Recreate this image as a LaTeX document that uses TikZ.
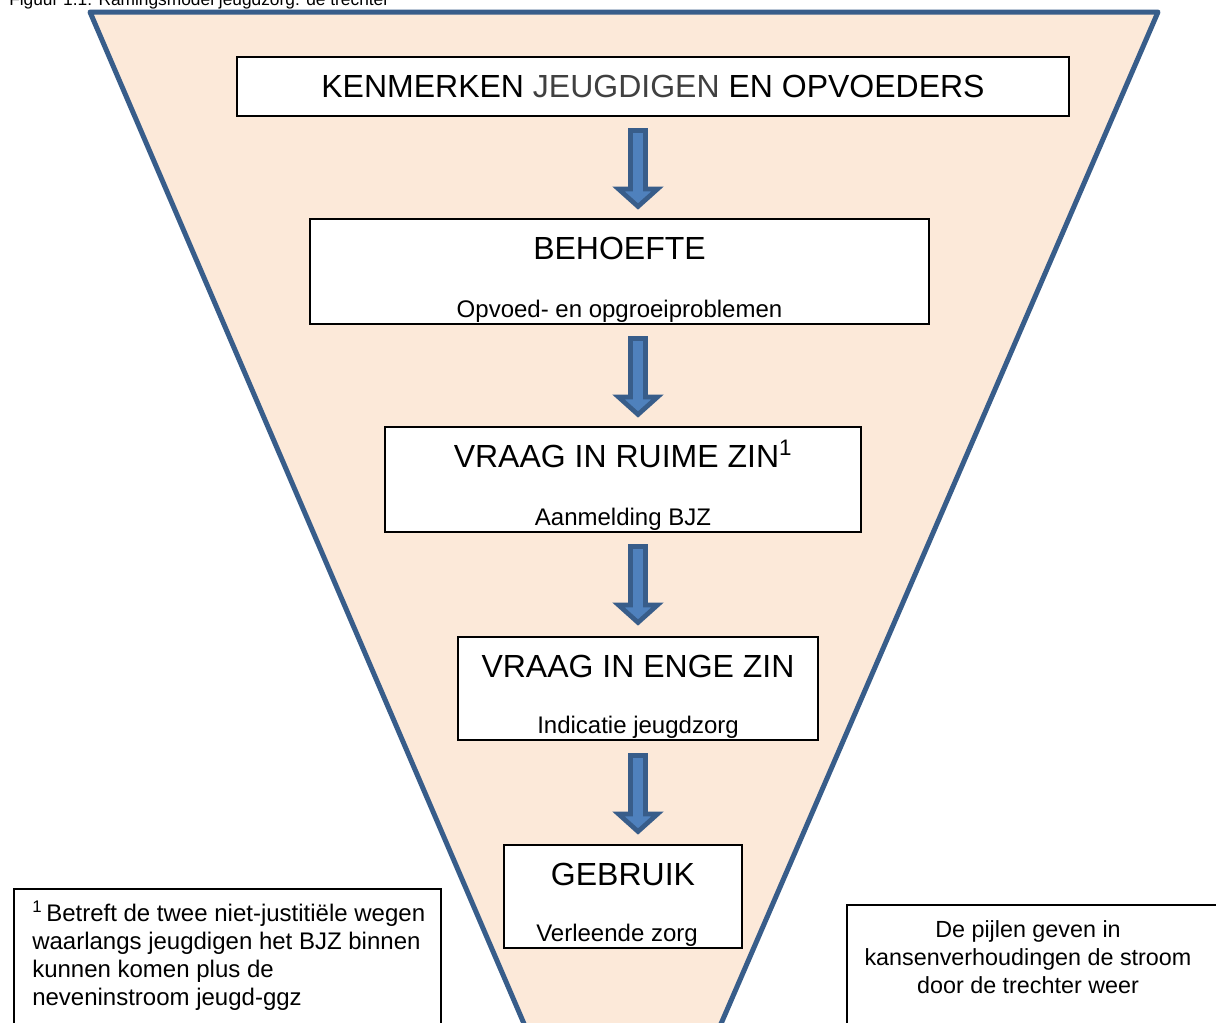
\documentclass[tikz,border=0pt]{standalone}
\usepackage{fontspec}
\setmainfont{Liberation Sans}
\usetikzlibrary{calc,fit}
\definecolor{funnelfill}{RGB}{252,233,217}
\definecolor{funnelline}{RGB}{56,93,138}
\definecolor{arrowfill}{RGB}{79,129,189}
\definecolor{arrowline}{RGB}{56,93,138}
\definecolor{greytext}{RGB}{64,64,64}
\begin{document}
\begin{tikzpicture}[x=0.75pt,y=-0.75pt,
  box/.style={draw=black,line width=1.5pt,fill=white,inner sep=0pt},
  notebox/.style={draw=black,line width=1.5pt,fill=white,inner sep=0pt},
  titletext/.style={font=\fontsize{24}{28}\selectfont,inner sep=0pt,anchor=base},
  subtext/.style={font=\fontsize{18}{21}\selectfont,inner sep=0pt,anchor=base},
  notetext/.style={font=\fontsize{18}{21}\selectfont,inner sep=0pt},
  notetextr/.style={font=\fontsize{17.5}{21}\selectfont,inner sep=0pt},
  funnel/.style={draw=funnelline,line width=3.75pt,fill=funnelfill,line join=round},
  blockarrow/.pic={
    \draw[fill=arrowfill,draw=arrowline,line width=3.5pt,line join=miter]
      (-7.5,2.5) -- (-7.5,61) -- (-19.5,61) -- (0,78.5) -- (19.5,61) -- (7.5,61) -- (7.5,2.5) -- cycle;
  }
]
\useasboundingbox (0,0) rectangle (1216,1022);
\clip (0,0) rectangle (1216,1022);
\fill[white] (0,0) rectangle (1216,1022);

% caption (cut off at the top)
\node[font=\fontsize{13}{15}\selectfont,inner sep=0pt,anchor=base west] (caption) at (9,5)
  {Figuur 1.1: Ramingsmodel jeugdzorg: de trechter};

% funnel
\draw[funnel] (90,12) -- (1158,12) -- (714,1040) -- (531,1040) -- cycle;

% boxes
\node[box,fit={(237,57) (1069,116)}] (b1) {};
\node[box,fit={(310,219) (929,324)}] (b2) {};
\node[box,fit={(385,427) (861,532)}] (b3) {};
\node[box,fit={(458,637) (818,740)}] (b4) {};
\node[box,fit={(504,845) (742,948)}] (b5) {};

% box texts
\node[titletext] (t1) at ($(b1.north)+(0,41.5)$) {KENMERKEN {\color{greytext}JEUGDIGEN} EN OPVOEDERS};
\node[titletext] (t2) at ($(b2.north)+(0,41.5)$) {BEHOEFTE};
\node[subtext]   (s2) at ($(b2.south)+(0,-8)$) {Opvoed- en opgroeiproblemen};
\node[titletext] (t3) at ($(b3.north)+(0,41.5)$) {VRAAG IN RUIME ZIN\textsuperscript{1}};
\node[subtext]   (s3) at ($(b3.south)+(0,-8)$) {Aanmelding BJZ};
\node[titletext] (t4) at ($(b4.north)+(0,41.5)$) {VRAAG IN ENGE ZIN};
\node[subtext]   (s4) at ($(b4.south)+(0,-8)$) {Indicatie jeugdzorg};
\node[titletext] (t5) at ($(b5.north)+(0,41.5)$) {GEBRUIK};
\node[subtext]   (s5) at ($(b5.south)+(-6,-8)$) {Verleende zorg};

% block arrows between the boxes
\coordinate (axis) at (638,0);
\pic at ($(b1.south -| axis)+(0,11)$) {blockarrow};
\pic at ($(b2.south -| axis)+(0,11)$) {blockarrow};
\pic at ($(b3.south -| axis)+(0,11)$) {blockarrow};
\pic at ($(b4.south -| axis)+(0,12)$) {blockarrow};

% footnote box (left)
\node[notebox,fit={(14,889) (441,1040)}] (fn) {};
\node[notetext,anchor=base west] (fn1) at ($(fn.north west)+(19,33)$) {\textsuperscript{1}\,Betreft de twee niet-justitiële wegen};
\node[notetext,anchor=base west] (fn2) at ($(fn.north west)+(19,61)$) {waarlangs jeugdigen het BJZ binnen};
\node[notetext,anchor=base west] (fn3) at ($(fn.north west)+(19,89)$) {kunnen komen plus de};
\node[notetext,anchor=base west] (fn4) at ($(fn.north west)+(19,117)$) {neveninstroom jeugd-ggz};

% note box (right)
\node[notebox,fit={(847,905) (1240,1040)}] (nb) {};
\node[notetextr,anchor=base] (nb1) at (1028,937) {De pijlen geven in};
\node[notetextr,anchor=base] (nb2) at (1028,965) {kansenverhoudingen de stroom};
\node[notetextr,anchor=base] (nb3) at (1028,993) {door de trechter weer};
\end{tikzpicture}
\end{document}
